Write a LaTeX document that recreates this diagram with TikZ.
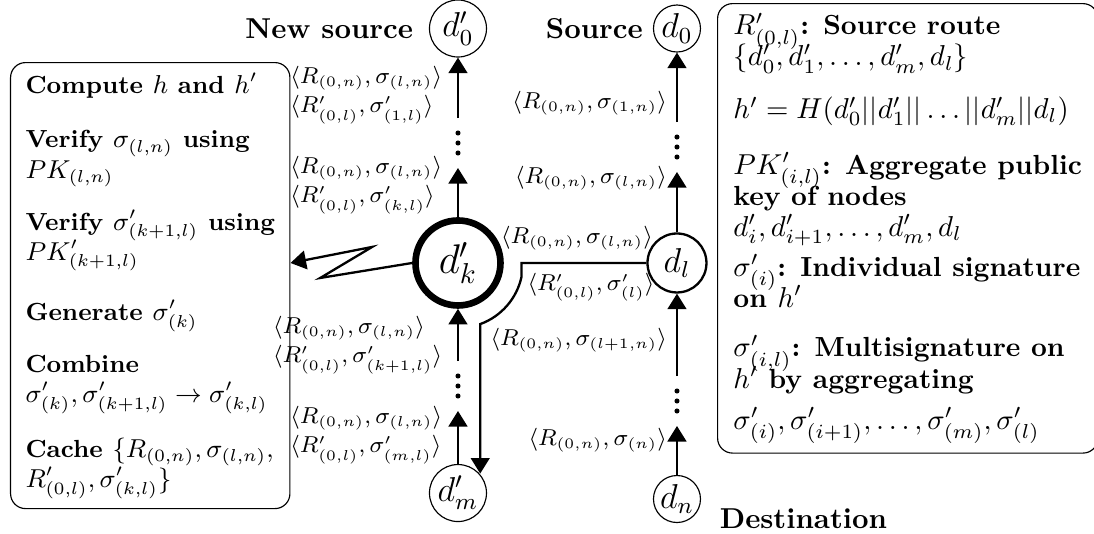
\documentclass[tikz,border=0pt]{standalone}
\usetikzlibrary{arrows.meta,calc}

\newcommand\tightlines{\lineskiplimit=-9pt\relax}
\tikzset{
    dev/.style={circle,draw,inner sep=0pt,minimum size=0.574cm,font=\large},
    devp/.style={dev,minimum size=0.696cm},
    infobox/.style={draw,rounded corners=5.2pt,align=left,anchor=north west},
    msg/.style={align=left,font=\fontsize{7.8}{10.2}\selectfont\tightlines},
}

\begin{document}
\begin{tikzpicture}[>={Triangle[length=5.4pt,width=6.5pt]}]
    \useasboundingbox (0,0) rectangle (13.358,-6.52);
    % new route (left) and old route (right)
    \node[devp] (d0p) at (5.592,-0.348) {$d'_0$};
    \node[dev,font=\Large,line width=2.3pt,minimum size=1.038cm] (dkp) at (5.592,-3.211) {$d'_k$};
    \node[devp] (dmp) at (5.592,-6.02) {$d'_m$};
    \node[dev] (d0) at (8.266,-0.348) {$d_0$};
    \node[dev,thick,minimum size=0.72cm] (dl) at (8.266,-3.211) {$d_l$};
    \node[dev] (dn) at (8.266,-6.093) {$d_n$};
    \node[left=2pt] (newsrc) at (d0p.west) {\textbf{New source}};
    \node[left] (src) at (d0.west) {\textbf{Source}};
    \node[below right,xshift=3pt] (dst) at (dn.east) {\textbf{Destination}};

    % dots between the hops
    \foreach \xx/\yy/\nm in {5.592/-1.746/lt,5.592/-4.713/lb,8.266/-1.795/rt,8.266/-4.896/rb} {
        \coordinate (\nm-up) at (\xx,{\yy+0.305});
        \coordinate (\nm-dn) at (\xx,{\yy-0.305});
        \foreach \dd in {-0.122,0,0.122}
            \fill (\xx,{\yy+\dd}) circle (0.031);
    }
    \draw[->,thick] (lt-up) -- (d0p);
    \draw[->,thick] (dkp) -- (lt-dn);
    \draw[->,thick] (lb-up) -- (dkp);
    \draw[->,thick] (dmp) -- (lb-dn);
    \draw[->,thick] (rt-up) -- (d0);
    \draw[->,thick] (dl) -- (rt-dn);
    \draw[->,thick] (rb-up) -- (dl);
    \draw[->,thick] (dn) -- (rb-dn);

    \node[msg,left=2pt] (m1) at (5.592,-1.16) {$\langle R_{(0,n)},\sigma_{(l,n)}\rangle$\\ $\langle R'_{(0,l)},\sigma'_{(1,l)}\rangle$};
    \node[msg,left=2pt] (m2) at (5.592,-2.259) {$\langle R_{(0,n)},\sigma_{(l,n)}\rangle$\\ $\langle R'_{(0,l)},\sigma'_{(k,l)}\rangle$};
    \node[msg,left=2pt] (m3) at (5.592,-4.212) {$\langle R_{(0,n)},\sigma_{(l,n)}\rangle$\\ $\langle R'_{(0,l)},\sigma'_{(k+1,l)}\rangle$};
    \node[msg,left=2pt] (m4) at (5.592,-5.311) {$\langle R_{(0,n)},\sigma_{(l,n)}\rangle$\\ $\langle R'_{(0,l)},\sigma'_{(m,l)}\rangle$};
    \node[msg,left] (r1) at (8.266,-1.258) {$\langle R_{(0,n)},\sigma_{(1,n)}\rangle$};
    \node[msg,left] (r2) at (8.266,-2.173) {$\langle R_{(0,n)},\sigma_{(l,n)}\rangle$};
    \node[msg,left] (r3) at (8.266,-4.151) {$\langle R_{(0,n)},\sigma_{(l+1,n)}\rangle$};
    \node[msg,left] (r4) at (8.266,-5.372) {$\langle R_{(0,n)},\sigma_{(n)}\rangle$};

    % d_l hands the new route back down to d'_m
    \coordinate (turn) at ($(dkp)+(-12:0.794)$);
    \coordinate (bend) at ($(dkp)+(-70:0.794)$);
    \draw[->,thick] (dl.west) -- (turn |- dl.west) -- (turn)
        arc[start angle=-12,end angle=-70,radius=0.794] -- (bend |- dmp.42);
    \node[msg] (mh1) at (7.045,-2.906) {$\langle R_{(0,n)},\sigma_{(l,n)}\rangle$};
    \node[msg] (mh2) at (7.216,-3.504) {$\langle R'_{(0,l)},\sigma'_{(l)}\rangle$};

    \node[infobox,font=\fontsize{8.6}{10.5}\selectfont\tightlines,inner xsep=5.2pt,minimum height=5.446cm] (lbox) at (0.122,-0.757) {%
        \textbf{Compute $h$ and $h'$}\\[8.5pt]
        \textbf{Verify $\sigma_{(l,n)}$ using}\\ $PK_{(l,n)}$\\[7.5pt]
        \textbf{Verify $\sigma'_{(k+1,l)}$ using}\\ $PK'_{(k+1,l)}$\\[10.5pt]
        \textbf{Generate $\sigma'_{(k)}$}\\[7.5pt]
        \textbf{Combine}\\ $\sigma'_{(k)},\sigma'_{(k+1,l)}\rightarrow\sigma'_{(k,l)}$\\[8.5pt]
        \textbf{Cache $\{R_{(0,n)},\sigma_{(l,n)},$}\\ $R'_{(0,l)},\sigma'_{(k,l)}\}$};
    \node[infobox,font=\fontsize{9.6}{10.8}\selectfont\tightlines,inner xsep=5.5pt,minimum height=5.47cm] (rbox) at (8.755,-0.037) {%
        $R'_{(0,l)}$\textbf{: Source route}\\ $\{d'_0,d'_1,\ldots,d'_m,d_l\}$\\[7.5pt]
        $h'=H(d'_0||d'_1||\ldots||d'_m||d_l)$\\[8.5pt]
        $PK'_{(i,l)}$\textbf{: Aggregate public}\\ \textbf{key of nodes}\\ $d'_i,d'_{i+1},\ldots,d'_m,d_l$\\[3pt]
        $\sigma'_{(i)}$\textbf{: Individual signature}\\ \textbf{on $h'$}\\[6.5pt]
        $\sigma'_{(i,l)}$\textbf{: Multisignature on}\\ \textbf{$h'$ by aggregating}\\[3.5pt]
        $\sigma'_{(i)},\sigma'_{(i+1)},\ldots,\sigma'_{(m)},\sigma'_{(l)}$};

    \draw[->,thick] (dkp.west) -- ++(-1.123,-0.183) -- ++(0.635,0.379) -- (lbox.east |- dkp);
\end{tikzpicture}
\end{document}
